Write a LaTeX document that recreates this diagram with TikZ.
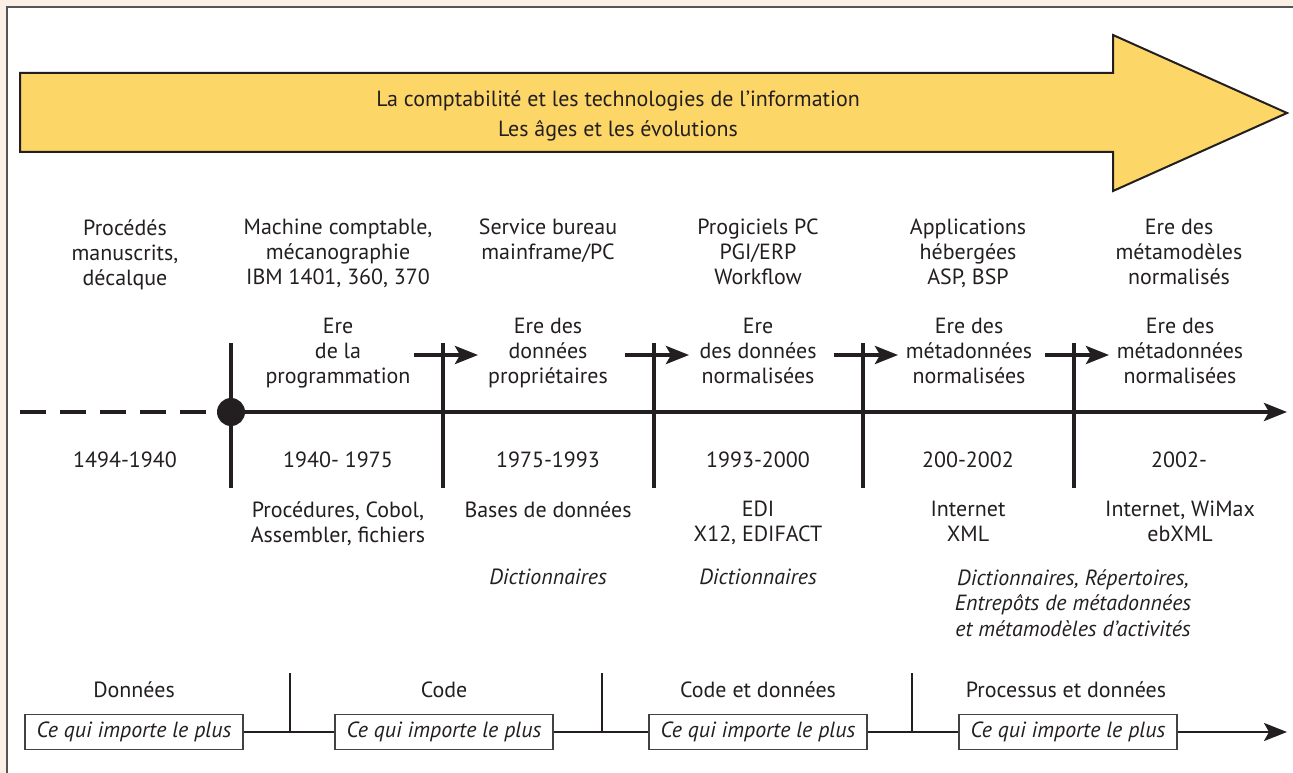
\documentclass[tikz,border=0pt]{standalone}
\usepackage{fontspec}
\setmainfont{PT Sans}
\usetikzlibrary{arrows.meta}
\definecolor{cream}{HTML}{FBF0E6}
\definecolor{sunyellow}{HTML}{FDD668}
\definecolor{ink}{HTML}{231F20}
\definecolor{framegray}{HTML}{555555}
\begin{document}
\begin{tikzpicture}[x=0.02cm, y=-0.02cm,
  lbl/.style={align=center, inner sep=0pt, anchor=north, text=ink, font=\fontsize{12.5}{14.2}\selectfont},
  yearlbl/.style={inner sep=0pt, text=ink, font=\fontsize{12.5}{14.2}\selectfont},
  phase/.style={inner sep=0pt, anchor=base, text=ink, font=\fontsize{12.5}{14.2}\selectfont},
  box/.style={draw=ink!85, line width=0.025cm, fill=white, minimum width=4.36cm, minimum height=0.7cm, inner sep=0pt, text=ink, font=\fontsize{12.5}{14.2}\selectfont\itshape},
  thickline/.style={ink, line width=0.08cm},
  thinline/.style={ink, line width=0.045cm},
  bigtip/.style={-{Stealth[length=0.46cm, width=0.36cm, inset=0.1cm]}}]
\useasboundingbox (0,0) rectangle (1293,773);
\fill[cream] (0,0) rectangle (1293,773);
\draw[framegray, line width=0.03cm, fill=white] (7,7) rectangle (1330,800);

% titre
\draw[ink, line width=0.04cm, fill=sunyellow] (20,73) -- (1113,73) -- (1113,35) -- (1287,113) -- (1113,191) -- (1113,152) -- (20,152) -- cycle;
\node[align=center, inner sep=0pt, text=ink, font=\fontsize{12.5}{17}\selectfont] (title) at (618,116) {La comptabilité et les technologies de l’information\\Les âges et les évolutions};

% axe du temps
\coordinate (tstart) at (20,412);
\node[circle, fill=ink, inner sep=0pt, minimum size=0.56cm] (origin) at (231,412) {};
\coordinate (tend) at (1287,412);
\draw[thickline, dash pattern=on 0.52cm off 0.28cm] (tstart) -- (origin);
\draw[thickline, bigtip] (origin) -- (tend);
\foreach \x in {231,443,654,863,1074}
  \draw[thickline] (\x,343) -- (\x,488);
\foreach \x in {443,654,863,1074}
  \draw[thickline, bigtip] (\x-29,355) -- (\x+35,355);

% technologies
\node[lbl] (procede) at (125,219) {Procédés\\manuscrits,\\décalque};
\node[lbl] (machine) at (338,219) {Machine comptable,\\mécanographie\\IBM 1401, 360, 370};
\node[lbl] (service) at (548,219) {Service bureau\\mainframe/PC};
\node[lbl] (progiciel) at (758,219) {Progiciels PC\\PGI/ERP\\Workflow};
\node[lbl] (heberge) at (968,219) {Applications\\hébergées\\ASP, BSP};
\node[lbl] (metamod) at (1179,219) {Ere des\\métamodèles\\normalisés};

% eres
\node[lbl] (eraprog) at (338,318) {Ere\\de la\\programmation};
\node[lbl] (eraprop) at (548,318) {Ere des\\données\\propriétaires};
\node[lbl] (eranorm) at (758,318) {Ere\\des données\\normalisées};
\node[lbl] (erameta) at (969,318) {Ere des\\métadonnées\\normalisées};
\node[lbl] (eramodel) at (1180,318) {Ere des\\métadonnées\\normalisées};

% periodes
\node[yearlbl] (y1) at (125,460) {1494-1940};
\node[yearlbl] (y2) at (338,460) {1940- 1975};
\node[yearlbl] (y3) at (548,460) {1975-1993};
\node[yearlbl] (y4) at (758,460) {1993-2000};
\node[yearlbl] (y5) at (968,460) {200-2002};
\node[yearlbl] (y6) at (1179,460) {2002-};

% outils
\node[lbl] (cobol) at (338,501) {Procédures, Cobol,\\Assembler, fichiers};
\node[lbl] (bases) at (548,501) {Bases de données};
\node[lbl] (edi) at (758,501) {EDI\\X12, EDIFACT};
\node[lbl] (xml) at (968,501) {Internet\\XML};
\node[lbl] (ebxml) at (1180,501) {Internet, WiMax\\ebXML};
\node[lbl, font=\fontsize{12.5}{14.2}\selectfont\itshape] (dico1) at (548,569) {Dictionnaires};
\node[lbl, font=\fontsize{12.5}{14.2}\selectfont\itshape] (dico2) at (758,569) {Dictionnaires};
\node[lbl, font=\fontsize{12.5}{14.6}\selectfont\itshape] (repert) at (1073,569) {Dictionnaires, Répertoires,\\Entrepôts de métadonnées\\et métamodèles d’activités};

% ce qui importe le plus
\node[phase] (pdata) at (134,697) {Données};
\node[phase] (pcode) at (444,697) {Code};
\node[phase] (pcodedata) at (758,697) {Code et données};
\node[phase] (pprocess) at (1066,697) {Processus et données};
\node[box] (b1) at (134,732) {Ce qui importe le plus};
\node[box] (b2) at (444,732) {Ce qui importe le plus};
\node[box] (b3) at (758,732) {Ce qui importe le plus};
\node[box] (b4) at (1068,732) {Ce qui importe le plus};
\coordinate (bend) at (1287,732);
\draw[thinline] (b1) -- (b2);
\draw[thinline] (b2) -- (b3);
\draw[thinline] (b3) -- (b4);
\draw[thinline, bigtip] (b4) -- (bend);
\foreach \x in {290,602,912}
  \draw[thinline] (\x,673) -- (\x,732);
\end{tikzpicture}
\end{document}
